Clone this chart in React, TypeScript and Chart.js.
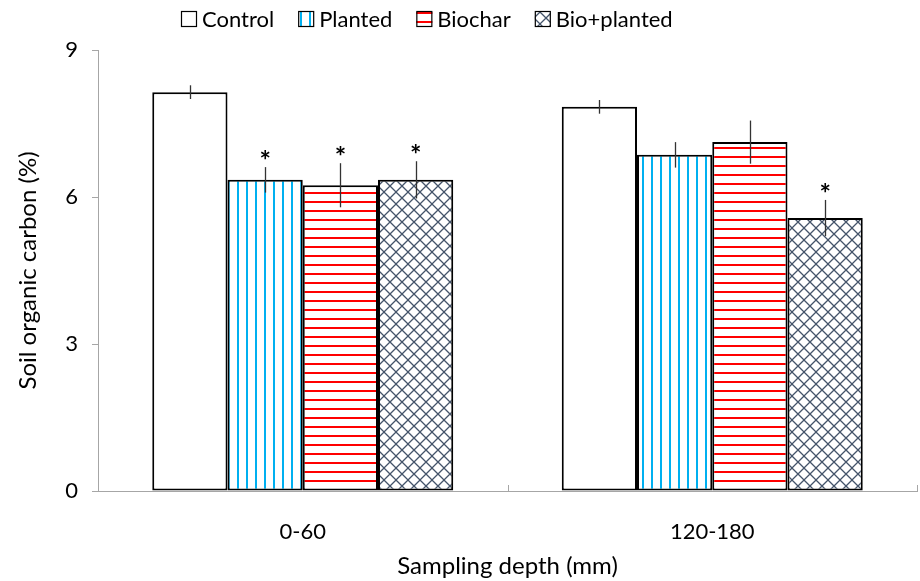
import React, { useEffect, useRef } from 'react';
import { Chart, registerables } from 'chart.js';

Chart.register(...registerables);

const categories = ['0-60', '120-180'];
const seriesLabels = ['Control', 'Planted', 'Biochar', 'Bio+planted'];
const control = [8.14, 7.84];
const planted = [6.35, 6.86];
const biochar = [6.24, 7.12];
const bioPlanted = [6.35, 5.57];
const controlErr = [0.14, 0.14];
const plantedErr = [0.26, 0.26];
const biocharErr = [0.45, 0.44];
const bioPlantedErr = [0.38, 0.37];
const controlSig = [false, false];
const plantedSig = [true, false];
const biocharSig = [true, false];
const bioPlantedSig = [true, true];
const yTicks = [0, 3, 6, 9];

const FONT = 'Lato, "Open Sans", sans-serif';

function makePattern(kind: string): CanvasPattern | string {
  const c = document.createElement('canvas');
  const ctx = c.getContext('2d')!;
  if (kind === 'none') return '#ffffff';
  if (kind === 'vertical') {
    c.width = 9; c.height = 9;
    ctx.fillStyle = '#fff'; ctx.fillRect(0, 0, 9, 9);
    ctx.fillStyle = '#00B0F0'; ctx.fillRect(3, 0, 2, 9);
  } else if (kind === 'horizontal') {
    c.width = 9; c.height = 9;
    ctx.fillStyle = '#fff'; ctx.fillRect(0, 0, 9, 9);
    ctx.fillStyle = '#FF0000'; ctx.fillRect(0, 3, 9, 2);
  } else {
    c.width = 12; c.height = 12;
    ctx.fillStyle = '#fff'; ctx.fillRect(0, 0, 12, 12);
    ctx.strokeStyle = '#44546A'; ctx.lineWidth = 1.3;
    ctx.beginPath();
    ctx.moveTo(-1, -1); ctx.lineTo(13, 13);
    ctx.moveTo(13, -1); ctx.lineTo(-1, 13);
    ctx.stroke();
  }
  return ctx.createPattern(c, 'repeat')!;
}

export default function App() {
  const ref = useRef<HTMLCanvasElement>(null);
  useEffect(() => {
    document.body.style.margin = '0';
    const values = [control, planted, biochar, bioPlanted];
    const errs = [controlErr, plantedErr, biocharErr, bioPlantedErr];
    const sigs = [controlSig, plantedSig, biocharSig, bioPlantedSig];
    const kinds = ['none', 'vertical', 'horizontal', 'cross'];
    const datasets = seriesLabels.map((label, i) => ({
      label,
      data: values[i],
      backgroundColor: makePattern(kinds[i]) as any,
      borderColor: '#000',
      borderWidth: 2,
      borderSkipped: false as any,
      barPercentage: 1,
      categoryPercentage: 0.735,
    }));

    const overlay = {
      id: 'overlay',
      afterDatasetsDraw(chart: any) {
        const ctx = chart.ctx;
        const ys = chart.scales.y;
        const ca = chart.chartArea;
        ctx.save();
        const n = categories.length;
        ctx.strokeStyle = '#A6A6A6';
        ctx.lineWidth = 1;
        for (let i = 0; i <= n; i++) {
          const x = Math.round(ca.left + (i * (ca.right - ca.left)) / n) + 0.5;
          ctx.beginPath();
          ctx.moveTo(x, ca.bottom);
          ctx.lineTo(x, ca.bottom - 6);
          ctx.stroke();
        }
        chart.data.datasets.forEach((ds: any, di: number) => {
          const meta = chart.getDatasetMeta(di);
          meta.data.forEach((el: any, j: number) => {
            const v = values[di][j];
            const e = errs[di][j];
            const top = ys.getPixelForValue(v + e);
            const bot = ys.getPixelForValue(v - e);
            const x = Math.round(el.x) + 0.5;
            ctx.strokeStyle = '#333';
            ctx.lineWidth = 1.3;
            ctx.beginPath();
            ctx.moveTo(x, top);
            ctx.lineTo(x, bot);
            ctx.stroke();
            if (sigs[di][j]) {
              ctx.fillStyle = '#000';
              ctx.font = 'bold 27px ' + FONT;
              ctx.textAlign = 'center';
              ctx.textBaseline = 'middle';
              ctx.fillText('*', el.x, top - 6);
            }
          });
        });
        let lx = 180;
        const ly = 19;
        ctx.font = '22px ' + FONT;
        ctx.textAlign = 'left';
        ctx.textBaseline = 'middle';
        chart.data.datasets.forEach((ds: any) => {
          ctx.fillStyle = ds.backgroundColor;
          ctx.fillRect(lx + 1, ly - 8, 16, 16);
          ctx.strokeStyle = '#000';
          ctx.lineWidth = 1.2;
          ctx.strokeRect(lx + 1.5, ly - 7.5, 15, 15);
          ctx.fillStyle = '#000';
          ctx.fillText(ds.label, lx + 22, ly + 1);
          lx += 22 + ctx.measureText(ds.label).width + 23;
        });
        ctx.restore();
      },
    };

    const chart = new Chart(ref.current!, {
      type: 'bar',
      data: { labels: categories, datasets },
      options: {
        animation: false,
        responsive: false,
        devicePixelRatio: 1,
        layout: { padding: { top: 50, right: 3, left: 0, bottom: 0 } },
        plugins: { legend: { display: false }, tooltip: { enabled: false } },
        scales: {
          x: {
            grid: { display: false },
            border: { color: '#A6A6A6', width: 1 },
            ticks: { color: '#000', font: { size: 22, family: FONT }, padding: 20 },
            title: {
              display: true,
              text: 'Sampling depth (mm)',
              color: '#000',
              font: { size: 24, family: FONT },
              padding: { top: 0, bottom: 0 },
            },
            afterFit: (s: any) => { s.height = 90; },
          },
          y: {
            min: 0,
            max: 9,
            afterBuildTicks: (s: any) => { s.ticks = yTicks.map((v) => ({ value: v })); },
            grid: { drawOnChartArea: false, drawTicks: true, tickLength: 6, color: '#A6A6A6' },
            border: { color: '#A6A6A6', width: 1 },
            ticks: { color: '#000', font: { size: 22, family: FONT }, padding: 14 },
            title: {
              display: true,
              text: 'Soil organic carbon (%)',
              color: '#000',
              font: { size: 24, family: FONT },
              padding: { top: 14, bottom: 0 },
            },
            afterFit: (s: any) => { s.width = 98; },
          },
        },
      },
      plugins: [overlay],
    });
    return () => chart.destroy();
  }, []);
  return (
    <div style={{ width: 920, height: 581 }}>
      <canvas ref={ref} width={920} height={581} />
    </div>
  );
}
